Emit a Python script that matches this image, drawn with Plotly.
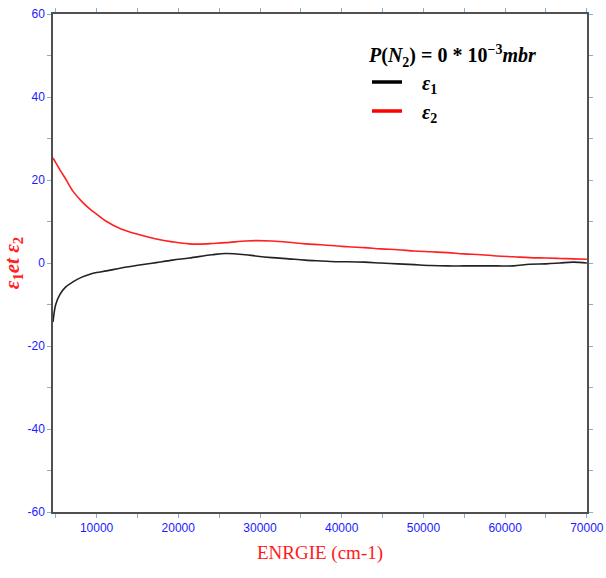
import plotly.graph_objects as go

# Energy grid (cm-1) and dielectric function components
energy = [4666, 5000, 5500, 6200, 7150, 8200, 9190, 10000, 11220, 13000, 15260, 17300, 19300,
          21340, 23370, 24170, 25800, 28230, 29440, 31460, 33500, 35520, 37500, 39560,
          40800, 42800, 44800, 46870, 48900, 50900, 52940, 54960, 57000, 59000, 61030,
          63000, 65000, 66700, 68300, 70000]

eps1 = [-14.2, -10.0, -7.6, -5.8, -4.5, -3.4, -2.7, -2.3, -1.9, -1.2, -0.5, 0.1, 0.7,
        1.2, 1.8, 2.0, 2.3, 2.0, 1.7, 1.3, 1.0, 0.7, 0.5, 0.3,
        0.3, 0.2, 0.0, -0.2, -0.4, -0.6, -0.7, -0.7, -0.7, -0.7, -0.7,
        -0.3, -0.2, 0.0, 0.2, 0.0]

eps2 = [25.3, 24.2, 22.5, 20.3, 17.2, 14.8, 13.0, 11.8, 10.0, 8.2, 6.8, 5.8, 5.1,
        4.6, 4.6, 4.7, 4.9, 5.3, 5.4, 5.3, 5.0, 4.6, 4.4, 4.1,
        3.9, 3.7, 3.4, 3.2, 2.9, 2.7, 2.5, 2.2, 2.0, 1.7, 1.5,
        1.3, 1.2, 1.1, 1.0, 0.9]

legend_title = "<b><i>P</i>(<i>N</i><sub>2</sub>) = 0 * 10<sup>−3</sup><i>mbr</i></b>"

fig = go.Figure()

fig.add_trace(go.Scatter(x=energy, y=eps1, mode="lines", line=dict(color="#222222", width=1.6),
                         line_shape="spline", showlegend=False))
fig.add_trace(go.Scatter(x=energy, y=eps2, mode="lines", line=dict(color="#ff2020", width=1.6),
                         line_shape="spline", showlegend=False))

# legend entries with thicker keys
fig.add_trace(go.Scatter(x=[None], y=[None], mode="lines", line=dict(color="black", width=3.5),
                         name="\u00a0\u00a0\u00a0<b><i>ε</i><sub>1</sub></b>"))
fig.add_trace(go.Scatter(x=[None], y=[None], mode="lines", line=dict(color="red", width=3.5),
                         name="\u00a0\u00a0\u00a0<b><i>ε</i><sub>2</sub></b>"))

axis_common = dict(
    showline=True, linecolor="#505050", linewidth=1.5, mirror="ticks",
    ticks="outside", ticklen=4, tickcolor="#7fb2d8", tickwidth=1,
    showgrid=False, zeroline=False, automargin=False, ticklabeloverflow="allow",
    tickfont=dict(family="Liberation Sans, Arial", size=12, color="#1a1aff"),
)

fig.update_xaxes(
    range=[4666, 70020], tickmode="array",
    tickvals=[10000, 20000, 30000, 40000, 50000, 60000, 70000],
    ticktext=["10000", "20000", "30000", "40000", "50000", "60000", "70000"],
    minor=dict(tickvals=[5000, 15000, 25000, 35000, 45000, 55000, 65000],
               ticks="outside", ticklen=4, tickcolor="#7fb2d8"),
    title=dict(text="ENRGIE (cm-1)", font=dict(family="Liberation Serif, Times New Roman", size=19, color="#ff1a1a"),
               standoff=12),
    **axis_common,
)
fig.update_yaxes(
    range=[-60, 60], tickmode="array",
    tickvals=[-60, -40, -20, 0, 20, 40, 60],
    ticktext=["-60", "-40", "-20", "0", "20", "40", "60"],
    minor=dict(tickvals=[-50, -30, -10, 10, 30, 50], ticks="outside", ticklen=4, tickcolor="#7fb2d8"),
    title=dict(text="<b><i>ε</i><sub>1</sub><i>et</i> <i>ε</i><sub>2</sub></b>",
               font=dict(family="Liberation Serif, Times New Roman", size=21, color="#ff2020"),
               standoff=12),
    **axis_common,
)

fig.update_layout(
    width=606, height=578,
    margin=dict(l=53, r=19, t=14, b=66),
    paper_bgcolor="white", plot_bgcolor="white",
    legend=dict(
        x=0.588, y=0.955, xanchor="left", yanchor="top",
        bgcolor="rgba(0,0,0,0)",
        title=dict(text=legend_title, side="top",
                   font=dict(family="Liberation Serif, Times New Roman", size=20, color="black")),
        font=dict(family="Liberation Serif, Times New Roman", size=20, color="black"),
        itemwidth=30,
    ),
)

fig.write_html("out.html")
